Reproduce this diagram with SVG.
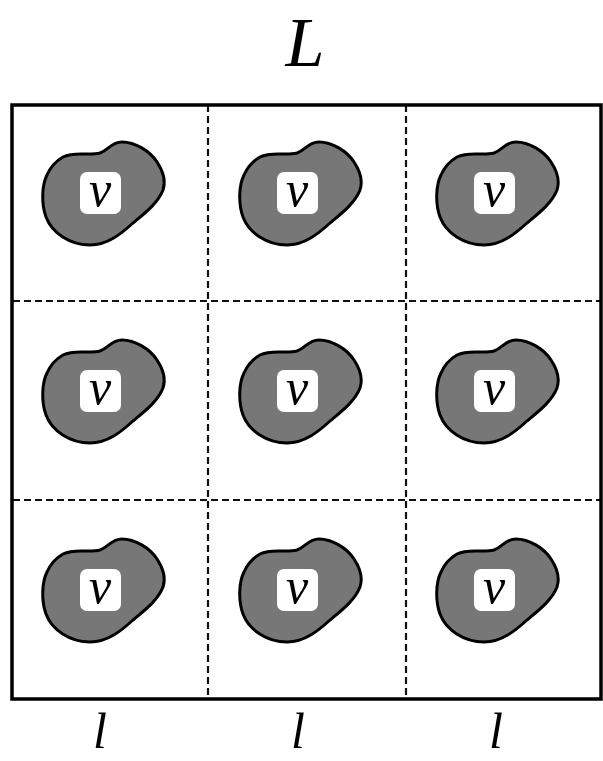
<svg xmlns="http://www.w3.org/2000/svg" xmlns:xlink="http://www.w3.org/1999/xlink" width="603" height="761" viewBox="0 0 603 761">
<style>
.frame{fill:none;stroke:#000;stroke-width:3.5}
.dash{stroke:#111;stroke-width:2.2;stroke-dasharray:7 4;fill:none}
.blob{fill:#777;stroke:#000;stroke-width:3;stroke-linejoin:round}
.box{fill:#fff}
.lbl{font-family:'Liberation Serif','Times New Roman',serif;font-style:italic;fill:#000;text-anchor:middle}
</style>
<defs>
<g id="cell">
<path class="blob" d="M-37,-36 C-25,-42 -12,-37 0,-40 C9,-43 11,-51 22,-51 C35,-51 50,-42 57,-31 C63,-22 66,-12 63,-3 C58,10 45,20 33,30 C22,40 8,52 -10,52 C-30,52 -48,40 -54,24 C-59,10 -58,-8 -53,-18 C-49,-27 -44,-32 -37,-36 Z"/>
<rect class="box" x="-20" y="-21" width="41" height="42" rx="7"/>
<text class="lbl" x="0" y="13" font-size="50">v</text>
</g>
</defs>
<rect width="603" height="761" fill="#fff"/>
<text class="lbl" x="305" y="66" font-size="70">L</text>
<g id="connectors">
<line class="dash" x1="208" y1="105" x2="208" y2="698"/>
<line class="dash" x1="406" y1="105" x2="406" y2="698"/>
<line class="dash" x1="13" y1="301" x2="601" y2="301"/>
<line class="dash" x1="13" y1="500" x2="601" y2="500"/>
</g>
<rect class="frame" x="12" y="105" width="589" height="594"/>
<g id="n11"><use xlink:href="#cell" x="100" y="193"/></g>
<g id="n12"><use xlink:href="#cell" x="297" y="193"/></g>
<g id="n13"><use xlink:href="#cell" x="494" y="193"/></g>
<g id="n21"><use xlink:href="#cell" x="100" y="391"/></g>
<g id="n22"><use xlink:href="#cell" x="297" y="391"/></g>
<g id="n23"><use xlink:href="#cell" x="494" y="391"/></g>
<g id="n31"><use xlink:href="#cell" x="100" y="590"/></g>
<g id="n32"><use xlink:href="#cell" x="297" y="590"/></g>
<g id="n33"><use xlink:href="#cell" x="494" y="590"/></g>
<text class="lbl" x="100" y="748" font-size="50">l</text>
<text class="lbl" x="298" y="748" font-size="50">l</text>
<text class="lbl" x="496" y="748" font-size="50">l</text>
</svg>
